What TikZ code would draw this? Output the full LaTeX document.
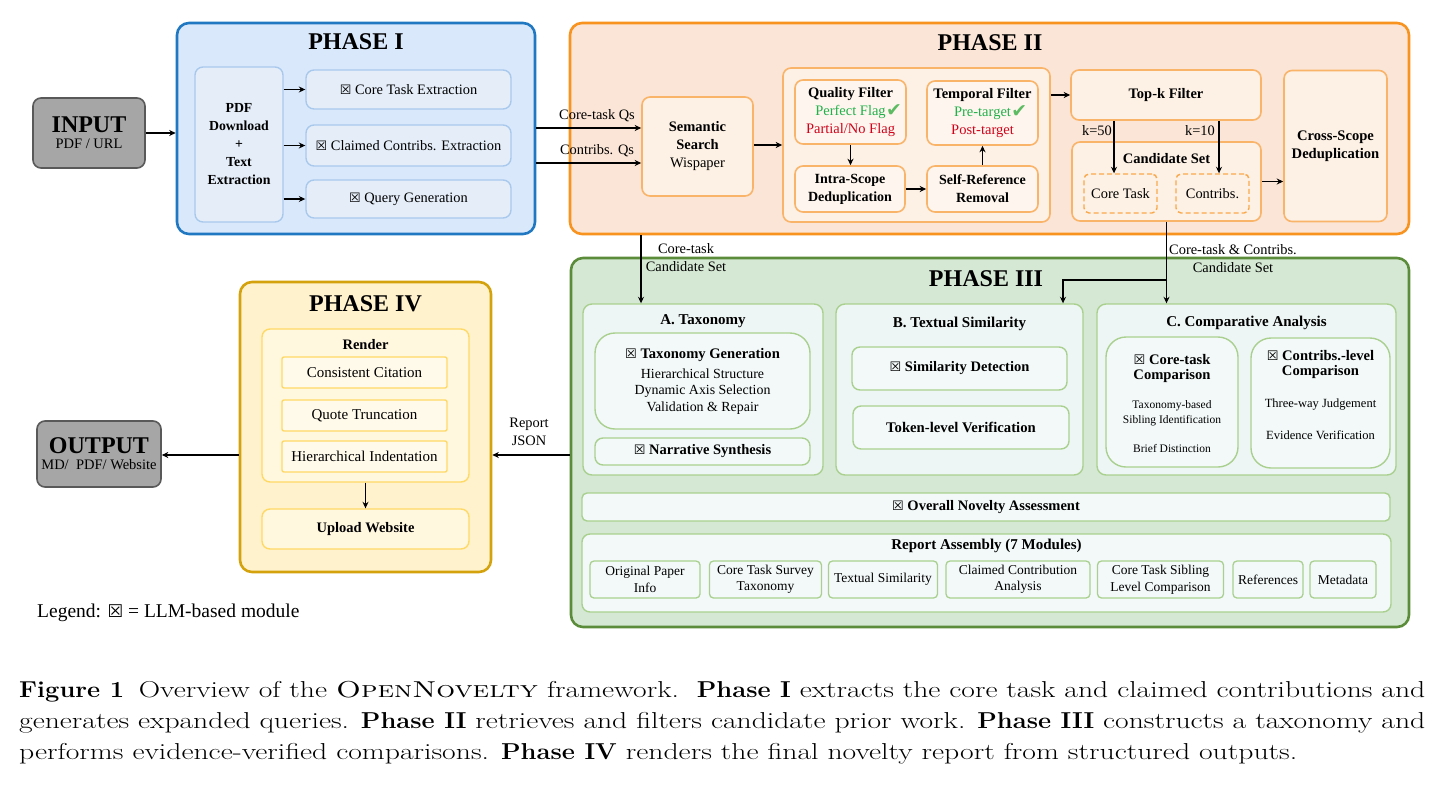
\documentclass[tikz,border=0pt]{standalone}
\usepackage{fontspec}
\usepackage{graphicx}
\usetikzlibrary{arrows.meta}
\newfontfamily\dg{Liberation Serif}
\newfontfamily\sym{DejaVu Sans}
\newcommand\fsz[2]{\fontsize{#1}{#2}\selectfont}
\newcommand\capb[1]{\scalebox{0.86}[1]{\bfseries #1}}
\definecolor{okgreen}{HTML}{22B04B}
\definecolor{chkgreen}{HTML}{5DBB63}
\definecolor{badred}{HTML}{D0021B}
\newcommand\llm{{\sym\scalebox{0.9}{☒}}}
\newcommand\chk{\rlap{\kern0.5pt\raisebox{-1pt}{\sym\color{chkgreen}\scalebox{1.3}{✔}}}}
\definecolor{c1B}{HTML}{1F78C1}
\definecolor{c1F}{HTML}{DAE8FC}
\definecolor{c1iF}{HTML}{E4EDF8}
\definecolor{c1iB}{HTML}{A9C9EC}
\definecolor{c2B}{HTML}{F7931E}
\definecolor{c2F}{HTML}{FBE5D6}
\definecolor{c2iF}{HTML}{FDF0E4}
\definecolor{c2iL}{HTML}{FEF6EE}
\definecolor{c2iB}{HTML}{F9B46A}
\definecolor{c3B}{HTML}{5B8C3A}
\definecolor{c3F}{HTML}{D5E8D4}
\definecolor{c3iF}{HTML}{EEF6F5}
\definecolor{c3iL}{HTML}{F3F9F9}
\definecolor{c3iB}{HTML}{A9D08E}
\definecolor{c4B}{HTML}{D4A20C}
\definecolor{c4F}{HTML}{FFF2CC}
\definecolor{c4iF}{HTML}{FFF7DE}
\definecolor{c4iL}{HTML}{FFFAEA}
\definecolor{c4iB}{HTML}{FFD966}
\definecolor{gF}{HTML}{A6A6A6}
\definecolor{gB}{HTML}{595959}
\tikzset{
  sz/.style 2 args={minimum width=#1pt, minimum height=#2pt},
  base/.style={inner sep=0pt, align=center, font=\dg\fsz{14.5}{18}},
  arr/.style={draw=black, line width=1.8pt, -{Stealth[length=6.5pt,width=6pt]}},
  ttl/.style={base, font=\dg\fsz{24}{26}\bfseries},
  phasebox/.style={base, rounded corners=12pt, line width=2.6pt},
  pone/.style={phasebox, draw=c1B, fill=c1F},
  ptwo/.style={phasebox, draw=c2B, fill=c2F},
  pthree/.style={phasebox, draw=c3B, fill=c3F},
  pfour/.style={phasebox, draw=c4B, fill=c4F},
  bone/.style={base, rounded corners=8pt, line width=1.4pt, draw=c1iB, fill=c1iF, font=\dg\fsz{14.4}{18}},
  btwo/.style={base, rounded corners=8pt, line width=1.6pt, draw=c2iB, fill=c2iF},
  btwol/.style={btwo, fill=c2iL},
  dbox/.style={base, rounded corners=5pt, line width=1.4pt, draw=c2B!80, fill=c2iF, dashed, dash pattern=on 5pt off 3pt, font=\dg\fsz{14.4}{17}},
  panel/.style={base, rounded corners=9pt, line width=1.4pt, draw=c3iB, fill=c3iF},
  gin/.style={base, rounded corners=8pt, line width=1.4pt, draw=c3iB, fill=c3iL},
  mod/.style={base, rounded corners=4pt, line width=1.3pt, draw=c3iB, fill=c3iL, font=\dg\fsz{13.5}{16.5}},
  rbox/.style={base, rounded corners=8pt, line width=1.4pt, draw=c4iB, fill=c4iF},
  ritem/.style={base, rounded corners=2pt, line width=1.4pt, draw=c4iB, fill=c4iL, font=\dg\fsz{15}{18}},
  gbox/.style={base, rounded corners=8pt, line width=1.6pt, draw=gB, fill=gF, font=\dg\fsz{14.5}{16}},
  lbl/.style={base, font=\dg\fsz{14.4}{18}},
  bt/.style={base, font=\dg\fsz{14.5}{18}\bfseries},
  bth/.style={base, font=\dg\fsz{15}{18}\bfseries},
  capline/.style={inner sep=0pt, anchor=base west, font=\fsz{23}{27}},
}
\begin{document}
\begin{tikzpicture}[x=1pt,y=-1pt]
\useasboundingbox[fill=white] (0,0) rectangle (1443,785);

% ---------- INPUT / OUTPUT ----------
\node[gbox, sz={112}{70}] (input) at (89,133) {{\fsz{24}{26}\textbf{INPUT}}\\[0pt]PDF / URL};
\node[gbox, sz={124}{66}] (output) at (99,454) {{\fsz{24}{26}\textbf{OUTPUT}}\\[0pt]MD/\ \ PDF/ Website};

% ---------- PHASE I ----------
\node[pone, sz={358}{211}] (p1) at (356,128.5) {};
\node[ttl] (t1) at (356,42) {PHASE I};
\node[bone, sz={88}{155}, font=\dg\fsz{13.8}{18}\bfseries] (pdf) at (239,144.5) {PDF\\Download\\+\\Text\\Extraction};
\node[bone, sz={205}{39}] (cte) at (408.5,89.5) {\llm\ Core Task Extraction};
\node[bone, sz={205}{41}] (cce) at (408.5,145.5) {\llm\ Claimed Contribs. Extraction};
\node[bone, sz={205}{38}] (qg) at (408.5,199) {\llm\ Query Generation};

% ---------- PHASE II ----------
\node[ptwo, sz={839}{211}] (p2) at (989.5,128.5) {};
\node[ttl] (t2) at (990,43) {PHASE II};
\node[btwo, sz={111}{99}, font=\dg\fsz{14.5}{18}] (ss) at (697.5,146.5) {\textbf{Semantic}\\\textbf{Search}\\Wispaper};
\node[btwo, sz={267}{154}] (grp) at (916.5,145) {};
\node[btwol, sz={111}{64}] (qf) at (850.5,112) {\textbf{Quality Filter}\\\textcolor{okgreen}{Perfect Flag}\chk\\\textcolor{badred}{Partial/No Flag}};
\node[btwol, sz={111}{64}] (tf) at (982.5,113) {\textbf{Temporal Filter}\\\textcolor{okgreen}{Pre-target}\chk\\\textcolor{badred}{Post-target}};
\node[btwol, sz={110}{46}, font=\dg\fsz{14}{18}\bfseries] (isd) at (850,189) {Intra-Scope\\Deduplication};
\node[btwol, sz={111}{46}, font=\dg\fsz{14}{18}\bfseries] (srr) at (982.5,189) {Self-Reference\\Removal};
\node[btwo, sz={190}{50}, font=\dg\fsz{14.5}{18}\bfseries] (topk) at (1166,95) {Top-k Filter};
\node[btwo, sz={189}{79}] (cand) at (1166.5,181.5) {};
\node[bt] (candt) at (1166.5,159) {Candidate Set};
\node[dbox, sz={73}{39}] (ct) at (1120.5,193.5) {Core Task};
\node[dbox, sz={73}{39}] (cb) at (1212.5,193.5) {Contribs.};
\node[btwo, sz={103}{151}, font=\dg\fsz{14.6}{18}\bfseries] (csd) at (1335.5,146) {Cross-Scope\\Deduplication};

% ---------- PHASE III ----------
\node[pthree, sz={838}{369}] (p3) at (990,442.5) {};
\node[ttl] (t3) at (986,279) {PHASE III};
\node[panel, sz={240}{171}] (A) at (703,389.5) {};
\node[bth] (At) at (703,321) {A. Taxonomy};
\node[gin, sz={215}{96}, rounded corners=20pt, font=\dg\fsz{13.9}{16.3}] (tg) at (702.5,381) {{\fsz{14.6}{17}\llm\ \textbf{Taxonomy Generation}}\\[4pt]Hierarchical Structure\\Dynamic Axis Selection\\Validation \& Repair};
\node[gin, sz={215}{27}] (ns) at (702.5,451.5) {\llm\ \textbf{Narrative Synthesis}};
\node[panel, sz={247}{171}] (B) at (959.5,389.5) {};
\node[bth] (Bt) at (959.5,324) {B. Textual Similarity};
\node[gin, sz={215}{43}] (sd) at (959.5,368.5) {\llm\ \textbf{Similarity Detection}};
\node[gin, sz={216}{43}, font=\dg\fsz{14.7}{18}\bfseries] (tv) at (961,427.5) {Token-level Verification};
\node[panel, sz={299}{171}] (C) at (1246.5,389.5) {};
\node[bth] (Ct) at (1246.5,323) {C. Comparative Analysis};
\node[gin, sz={132}{130}, rounded corners=20pt] (ctc) at (1172,402) {};
\node[base, font=\dg\fsz{11.5}{15}] (ctct) at (1172,403) {{\fsz{14.6}{18}\llm\ \textbf{Core-task}}\\{\fsz{14.6}{18}\textbf{Comparison}}\\[14pt]Taxonomy-based\\Sibling Identification\\[14pt]Brief Distinction};
\node[gin, sz={139}{130}, rounded corners=20pt] (clc) at (1320.5,403) {};
\node[base, font=\dg\fsz{12.5}{15}] (clct) at (1320.5,395) {{\fsz{14.6}{18}\llm\ \textbf{Contribs.-level}}\\{\fsz{14.6}{18}\textbf{Comparison}}\\[17pt]Three-way Judgement\\[17pt]Evidence Verification};
\node[gin, sz={808}{28}, rounded corners=5pt] (ona) at (986,507) {\llm\ \textbf{Overall Novelty Assessment}};
\node[gin, sz={809}{78}, rounded corners=8pt] (ra) at (986.5,573) {};
\node[bth] (rat) at (986.5,546) {Report Assembly (7 Modules)};
\node[mod, sz={110}{37}] (m1) at (645,579.5) {Original Paper\\Info};
\node[mod, sz={112}{37}] (m2) at (765.5,579.5) {Core Task Survey\\Taxonomy};
\node[mod, sz={109}{37}] (m3) at (883,579.5) {Textual Similarity};
\node[mod, sz={144}{37}] (m4) at (1018,579.5) {Claimed Contribution\\Analysis};
\node[mod, sz={126}{37}] (m5) at (1160.5,579.5) {Core Task Sibling\\Level Comparison};
\node[mod, sz={70}{37}] (m6) at (1268,579.5) {References};
\node[mod, sz={66}{37}] (m7) at (1343,579.5) {Metadata};

% ---------- PHASE IV ----------
\node[pfour, sz={251}{290}] (p4) at (365.5,427) {};
\node[ttl] (t4) at (365.5,304) {PHASE IV};
\node[rbox, sz={207}{153}] (render) at (365.5,405.5) {};
\node[bt] (rt) at (365.5,345) {Render};
\node[ritem, sz={165}{31}] (cc) at (364.5,372.5) {Consistent Citation};
\node[ritem, sz={165}{31}] (qt) at (364.5,415.5) {Quote Truncation};
\node[ritem, sz={165}{31}] (hi) at (364.5,456.5) {Hierarchical Indentation};
\node[rbox, sz={207}{40}, font=\dg\fsz{14.5}{18}\bfseries] (uw) at (365.5,529) {Upload Website};

% ---------- helper coordinates ----------
\coordinate (yq1) at (0,128);
\coordinate (yq2) at (0,163);
\coordinate (xk50) at (1114,0);
\coordinate (xk10) at (1219,0);
\coordinate (xA) at (641,0);
\coordinate (xB) at (1063,0);
\coordinate (br) at (1167,280);
\coordinate (yr) at (0,455);

% ---------- connectors ----------
\draw[arr] (input.east) -- (input.east -| p1.west);
\draw[arr] (pdf.east |- cte) -- (cte.west);
\draw[arr] (pdf.east |- cce) -- (cce.west);
\draw[arr] (pdf.east |- qg) -- (qg.west);
\draw[arr] (p1.east |- yq1) -- (ss.west |- yq1);
\draw[arr] (p1.east |- yq2) -- (ss.west |- yq2);
\node[lbl] (lq1) at (597,116) {Core-task Qs};
\node[lbl] (lq2) at (597,151) {Contribs. Qs};
\draw[arr] (ss.east |- grp) -- (grp.west);
\draw[arr] (qf.south) -- (qf.south |- isd.north);
\draw[arr] (isd.east) -- (srr.west);
\draw[arr] (srr.north) -- (srr.north |- tf.south);
\draw[arr] (grp.east |- topk) -- (topk.west);
\draw[arr] (topk.south -| xk50) -- (ct.north -| xk50);
\draw[arr] (topk.south -| xk10) -- (cb.north -| xk10);
\node[lbl] (k50) at (1097,131) {k=50};
\node[lbl] (k10) at (1200,131) {k=10};
\draw[arr] (cand.east) -- (csd.west |- cand.east);

\draw[arr] (p2.south -| xA) -- (A.north -| xA);
\node[lbl] (lA) at (686,258) {Core-task\\Candidate Set};
\draw[arr] (cand.south) -- (cand.south |- C.north);
\draw[arr] (br) -| (xB |- B.north);
\node[lbl] (lC) at (1233,259) {Core-task \& Contribs.\\Candidate Set};

\draw[arr] (p3.west |- yr) -- (p4.east |- yr);
\node[lbl] (lr) at (529,432) {Report\\JSON};
\draw[arr] (p4.west |- yr) -- (output.east |- yr);
\draw[arr] (render.south) -- (uw.north);

% ---------- legend ----------
\node[base, anchor=base west, font=\dg\fsz{19.5}{22}] (legend) at (37,617) {Legend: \llm\ = LLM-based module};

% ---------- caption ----------
\node[capline] (cap1) at (19,697) {\resizebox{1406pt}{\height}{\capb{Figure 1}\hspace{0.5em}Overview of the \textsc{OpenNovelty} framework.\ \ \capb{Phase I} extracts the core task and claimed contributions and}};
\node[capline] (cap2) at (19,728) {\resizebox{1406pt}{\height}{generates expanded queries. \capb{Phase II} retrieves and filters candidate prior work. \capb{Phase III} constructs a taxonomy and}};
\node[capline] (cap3) at (19,759) {\resizebox{1278pt}{\height}{performs evidence-verified comparisons. \capb{Phase IV} renders the final novelty report from structured outputs.}};
\end{tikzpicture}
\end{document}
